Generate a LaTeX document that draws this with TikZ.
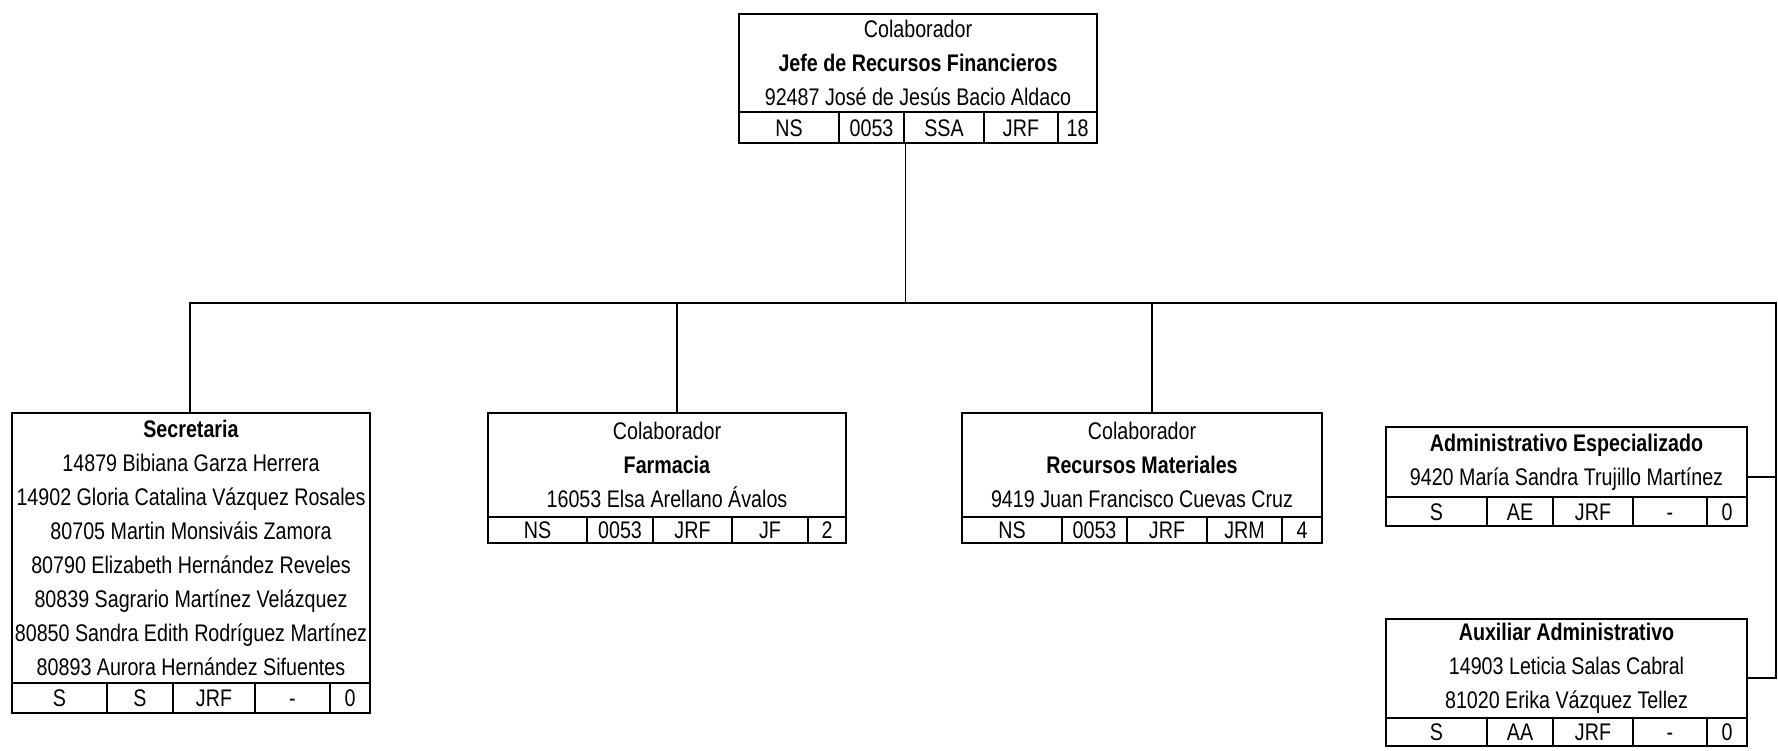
\documentclass[tikz,border=0pt]{standalone}
\usepackage{fontspec}
\setmainfont{Liberation Sans}[FakeStretch=0.82]
\pgfdeclarelayer{edgelayer}
\pgfdeclarelayer{nodelayer}
\pgfsetlayers{edgelayer,nodelayer,main}
\tikzset{font=\fontsize{12}{17}\selectfont}
\tikzstyle{head}=[draw,line width=1.4pt,inner sep=0pt,align=center]
\tikzstyle{cell}=[draw,line width=1.4pt,inner sep=0pt,text height=8.6pt,text depth=0pt]
\tikzstyle{link}=[line width=0.8pt]

\begin{document}
\begin{tikzpicture}[x=0.5pt,y=-0.5pt]
	\begin{pgfonlayer}{nodelayer}
		% jefe
		\node [style=head, minimum width=179pt, minimum height=49pt] (jrf) at (918, 63) {Colaborador\\\textbf{Jefe de Recursos Financieros}\\92487 José de Jesús Bacio Aldaco};
		\node [style=cell, minimum width=50pt, minimum height=15.5pt] (jrf1) at (789, 127.5) {NS};
		\node [style=cell, minimum width=32.5pt, minimum height=15.5pt] (jrf2) at (871.5, 127.5) {0053};
		\node [style=cell, minimum width=40pt, minimum height=15.5pt] (jrf3) at (944, 127.5) {SSA};
		\node [style=cell, minimum width=37pt, minimum height=15.5pt] (jrf4) at (1021, 127.5) {JRF};
		\node [style=cell, minimum width=19.5pt, minimum height=15.5pt] (jrf5) at (1077.5, 127.5) {18};
		% secretaria
		\node [style=head, minimum width=179pt, minimum height=135pt] (sec) at (191, 548) {\textbf{Secretaria}\\14879 Bibiana Garza Herrera\\14902 Gloria Catalina Vázquez Rosales\\80705 Martin Monsiváis Zamora\\80790 Elizabeth Hernández Reveles\\80839 Sagrario Martínez Velázquez\\80850 Sandra Edith Rodríguez Martínez\\80893 Aurora Hernández Sifuentes};
		\node [style=cell, minimum width=47.5pt, minimum height=15pt] (sec1) at (59.5, 698) {S};
		\node [style=cell, minimum width=33pt, minimum height=15pt] (sec2) at (140, 698) {S};
		\node [style=cell, minimum width=41pt, minimum height=15pt] (sec3) at (214, 698) {JRF};
		\node [style=cell, minimum width=37.5pt, minimum height=15pt] (sec4) at (292.5, 698) {-};
		\node [style=cell, minimum width=20pt, minimum height=15pt] (sec5) at (350, 698) {0};
		% farmacia
		\node [style=head, minimum width=179pt, minimum height=52pt] (farm) at (667, 465) {Colaborador\\\textbf{Farmacia}\\16053 Elsa Arellano Ávalos};
		\node [style=cell, minimum width=49.5pt, minimum height=13pt] (farm1) at (537.5, 530) {NS};
		\node [style=cell, minimum width=33pt, minimum height=13pt] (farm2) at (620, 530) {0053};
		\node [style=cell, minimum width=39.5pt, minimum height=13pt] (farm3) at (692.5, 530) {JRF};
		\node [style=cell, minimum width=38pt, minimum height=13pt] (farm4) at (770, 530) {JF};
		\node [style=cell, minimum width=19pt, minimum height=13pt] (farm5) at (827, 530) {2};
		% recursos materiales
		\node [style=head, minimum width=180pt, minimum height=52pt] (rmat) at (1142, 465) {Colaborador\\\textbf{Recursos Materiales}\\9419 Juan Francisco Cuevas Cruz};
		\node [style=cell, minimum width=50pt, minimum height=13pt] (rmat1) at (1012, 530) {NS};
		\node [style=cell, minimum width=32.5pt, minimum height=13pt] (rmat2) at (1094.5, 530) {0053};
		\node [style=cell, minimum width=40pt, minimum height=13pt] (rmat3) at (1167, 530) {JRF};
		\node [style=cell, minimum width=37.5pt, minimum height=13pt] (rmat4) at (1244.5, 530) {JRM};
		\node [style=cell, minimum width=20pt, minimum height=13pt] (rmat5) at (1302, 530) {4};
		% administrativo especializado
		\node [style=head, minimum width=180.5pt, minimum height=35pt] (aesp) at (1566.5, 462) {\textbf{Administrativo Especializado}\\9420 María Sandra Trujillo Martínez};
		\node [style=cell, minimum width=50.5pt, minimum height=14.5pt] (aesp1) at (1436.5, 511.5) {S};
		\node [style=cell, minimum width=33pt, minimum height=14.5pt] (aesp2) at (1520, 511.5) {AE};
		\node [style=cell, minimum width=40pt, minimum height=14.5pt] (aesp3) at (1593, 511.5) {JRF};
		\node [style=cell, minimum width=37pt, minimum height=14.5pt] (aesp4) at (1670, 511.5) {-};
		\node [style=cell, minimum width=20pt, minimum height=14.5pt] (aesp5) at (1727, 511.5) {0};
		% auxiliar administrativo
		\node [style=head, minimum width=180.5pt, minimum height=49.5pt] (aux) at (1566.5, 668.5) {\textbf{Auxiliar Administrativo}\\14903 Leticia Salas Cabral\\81020 Erika Vázquez Tellez};
		\node [style=cell, minimum width=50.5pt, minimum height=14pt] (aux1) at (1436.5, 732) {S};
		\node [style=cell, minimum width=33pt, minimum height=14pt] (aux2) at (1520, 732) {AA};
		\node [style=cell, minimum width=40pt, minimum height=14pt] (aux3) at (1593, 732) {JRF};
		\node [style=cell, minimum width=37pt, minimum height=14pt] (aux4) at (1670, 732) {-};
		\node [style=cell, minimum width=20pt, minimum height=14pt] (aux5) at (1727, 732) {0};
	\end{pgfonlayer}
	\begin{pgfonlayer}{edgelayer}
		\fill[white] (0,0) rectangle (1778,750);
		\coordinate (secTap) at (190, 303);
		\coordinate (farmTap) at (677, 303);
		\coordinate (rmatTap) at (1152, 303);
		\coordinate (busR) at (1776, 303);
		\coordinate (aespTap) at (1776, 477);
		\coordinate (auxTap) at (1776, 678);
		\draw[style=link] (jrf2.south east) to (jrf2.south east |- secTap);
		\draw[style=link] (secTap |- sec.north) to (secTap) to (busR) to (auxTap) to (auxTap -| aux.east);
		\draw[style=link] (farmTap) to (farmTap |- farm.north);
		\draw[style=link] (rmatTap) to (rmatTap |- rmat.north);
		\draw[style=link] (aespTap) to (aespTap -| aesp.east);
	\end{pgfonlayer}
\end{tikzpicture}
\end{document}
